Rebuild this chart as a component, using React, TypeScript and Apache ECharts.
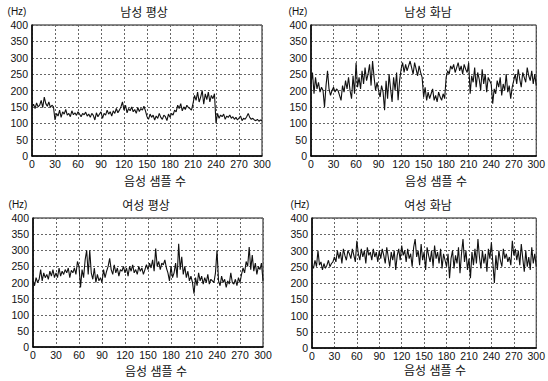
import React, { useEffect, useRef } from "react";
import * as echarts from "echarts";

const xTicks = [0, 30, 60, 90, 120, 150, 180, 210, 240, 270, 300];
const titles = ["남성 평상", "남성 화남", "여성 평상", "여성 화남"];
const xName = "음성 샘플 수";
const yUnit = "(Hz)";

// sampled every 2 samples (x = 0, 2, 4, ..., 300)
const maleNormal = [
  150,158,145,162,150,155,170,148,180,160,152,165,148,155,150,
  110,
  130,122,140,118,135,128,142,125,130,120,138,126,132,124,135,128,120,130,126,134,
  122,128,118,130,124,110,132,120,128,135,115,130,125,140,128,135,122,138,130,145,
  132,140,150,165,
  140,155,132,145,138,150,135,142,130,148,136,145,140,152,138,
  120,112,128,118,125,110,122,115,130,118,112,125,120,108,128,
  118,130,125,140,135,155,145,160,138,150,142,155,148,145,140,
  160,185,170,195,165,180,200,158,190,172,195,165,185,175,190,
  100,
  130,115,125,120,128,112,122,118,125,115,120,112,118,110,116,122,108,115,112,120,
  130,118,112,115,110,108,112,106,110,108,
];
const maleAngry = [
  220,255,190,240,205,225,195,210,200,150,215,260,205,185,200,
  210,195,205,200,185,170,215,195,230,205,240,200,175,245,190,
  285,210,240,205,260,220,270,230,250,280,215,290,240,200,225,
  200,180,215,195,140,230,175,250,205,165,240,200,255,170,230,
  265,285,255,280,260,275,290,270,250,285,265,245,275,255,240,
  180,210,170,195,175,190,205,170,185,165,195,180,170,190,175,
  240,260,250,275,265,280,255,270,285,260,275,250,280,265,255,
  285,190,245,225,270,210,255,235,200,265,220,250,195,240,230,
  220,160,205,190,230,210,240,185,220,200,250,195,215,175,210,
  230,250,220,265,235,210,255,240,225,270,245,230,260,220,250,215,
];
const femaleNormal = [
  205,190,215,200,210,240,205,230,215,225,210,235,220,240,215,
  230,215,245,220,235,225,240,230,245,215,238,230,245,225,265,
  250,185,240,215,270,300,225,300,230,210,245,200,225,205,215,
  200,240,215,235,250,275,240,225,255,230,245,220,240,235,250,
  230,245,220,250,235,255,230,240,225,250,235,245,225,240,255,
  240,260,245,270,235,305,250,265,240,260,255,270,245,230,205,
  250,215,230,260,215,320,240,280,225,250,215,235,205,220,200,
  165,215,190,230,205,220,195,215,200,225,195,210,205,200,230,
  300,205,190,220,200,210,185,205,195,230,200,195,210,190,215,
  200,225,245,230,265,250,310,240,285,235,260,225,250,240,260,205,
];
const femaleAngry = [
  255,245,270,250,300,255,265,240,260,245,255,270,250,260,265,
  280,265,300,275,295,260,305,285,270,300,290,275,305,285,265,
  330,290,270,305,280,300,260,310,285,295,270,305,280,295,265,
  300,275,305,285,260,310,280,250,295,270,300,240,285,305,270,
  315,285,300,265,305,275,290,250,310,335,280,300,255,320,270,
  295,240,310,285,265,300,250,315,275,295,260,305,245,290,270,
  250,290,215,275,300,245,285,260,310,230,290,335,265,300,240,
  275,215,295,255,305,260,335,280,245,300,260,290,235,305,275,
  325,260,200,285,240,300,270,250,305,275,290,265,280,255,330,
  285,305,270,300,255,320,275,235,300,250,280,240,310,260,290,250,
];

const seriesList = [maleNormal, maleAngry, femaleNormal, femaleAngry];
const STEP = 2;

const grids = [
  { left: 32, top: 25, width: 230, height: 131 },
  { left: 311, top: 25, width: 232, height: 131 },
  { left: 33, top: 218, width: 230, height: 129 },
  { left: 312, top: 218, width: 230, height: 130 },
];
const titlePos = [[144, 13], [428, 13], [146, 206], [428, 206]];
const hzPos = [[17, 11], [298, 11], [18, 204], [300, 204]];
const xNamePos = [[155, 182], [436, 182], [156, 372], [435, 371]];

const FONT = "'Liberation Sans', 'Noto Sans CJK KR', sans-serif";

export default function App() {
  const ref = useRef<HTMLDivElement>(null);
  useEffect(() => {
    if (!ref.current) return;
    const chart = echarts.init(ref.current, null, { renderer: "svg" });
    const gridLine = { show: true, lineStyle: { color: "#666", type: [2, 2], width: 1 } };
    const xAxis = grids.map((_, i) => ({
      type: "value",
      gridIndex: i,
      min: xTicks[0],
      max: xTicks[xTicks.length - 1],
      interval: 30,
      axisLine: { show: true, onZero: false, lineStyle: { color: "#000", width: 1.5 } },
      axisTick: { show: false },
      axisLabel: { color: "#111", fontSize: 10.5, fontFamily: FONT, margin: 3 },
      splitLine: gridLine,
    }));
    const yAxis = grids.map((_, i) => ({
      type: "value",
      gridIndex: i,
      min: 0,
      max: 400,
      interval: 50,
      axisLine: { show: true, lineStyle: { color: "#000", width: 1.5 } },
      axisTick: { show: false },
      axisLabel: { color: "#111", fontSize: 10.5, fontFamily: FONT, margin: 4 },
      splitLine: gridLine,
    }));
    const series = seriesList.map((vals, i) => ({
      type: "line",
      xAxisIndex: i,
      yAxisIndex: i,
      data: vals.map((v, j) => [j * STEP, v]),
      showSymbol: false,
      symbol: "none",
      lineStyle: { color: "#111", width: 1.1 },
    }));
    const graphic: any[] = [];
    titles.forEach((t, i) => {
      graphic.push({
        type: "text", x: titlePos[i][0], y: titlePos[i][1],
        style: { text: t, fill: "#111", font: `12px ${FONT}`, align: "center", verticalAlign: "middle" },
      });
      graphic.push({
        type: "text", x: hzPos[i][0], y: hzPos[i][1],
        style: { text: yUnit, fill: "#111", font: `10px ${FONT}`, align: "center", verticalAlign: "middle" },
      });
      graphic.push({
        type: "text", x: xNamePos[i][0], y: xNamePos[i][1],
        style: { text: xName, fill: "#111", font: `12px ${FONT}`, align: "center", verticalAlign: "middle" },
      });
    });
    chart.setOption({
      animation: false,
      backgroundColor: "#fff",
      grid: grids.map((g) => ({ ...g, show: true, borderColor: "#111", borderWidth: 1, backgroundColor: "transparent" })),
      xAxis,
      yAxis,
      series,
      graphic,
    });
    return () => chart.dispose();
  }, []);
  return <div ref={ref} style={{ position: "fixed", left: 0, top: 0, width: 548, height: 381 }} />;
}
